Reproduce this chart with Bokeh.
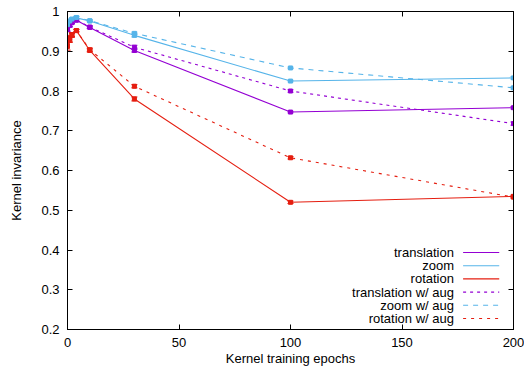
from bokeh.plotting import figure
from bokeh.models import Range1d, LinearAxis, FixedTicker, Whisker, ColumnDataSource
from bokeh.core.properties import value
from bokeh.embed import file_html
from bokeh.resources import INLINE

# ---- data ----
epochs = [0, 1, 2, 4, 10, 30, 100, 200]
translation = [0.955, 0.965, 0.972, 0.978, 0.960, 0.902, 0.747, 0.758]
zoom = [0.965, 0.975, 0.980, 0.984, 0.976, 0.940, 0.825, 0.833]
rotation = [0.912, 0.930, 0.940, 0.952, 0.902, 0.780, 0.520, 0.535]
translation_aug = [0.957, 0.966, 0.973, 0.979, 0.961, 0.910, 0.800, 0.718]
zoom_aug = [0.967, 0.976, 0.981, 0.985, 0.977, 0.945, 0.858, 0.808]
rotation_aug = [0.915, 0.932, 0.942, 0.952, 0.904, 0.812, 0.632, 0.533]
translation_err = [0.006, 0.004, 0.003, 0.003, 0.003, 0.004, 0.002, 0.003]
zoom_err = [0.006, 0.004, 0.003, 0.003, 0.002, 0.004, 0.002, 0.003]
rotation_err = [0.012, 0.008, 0.005, 0.003, 0.004, 0.005, 0.003, 0.003]
translation_aug_err = [0.006, 0.004, 0.003, 0.003, 0.003, 0.005, 0.003, 0.004]
zoom_aug_err = [0.006, 0.004, 0.003, 0.003, 0.002, 0.003, 0.002, 0.003]
rotation_aug_err = [0.012, 0.008, 0.005, 0.003, 0.004, 0.004, 0.003, 0.003]

labels = ["translation", "zoom", "rotation",
          "translation w/ aug", "zoom w/ aug", "rotation w/ aug"]
x_ticks = [0, 50, 100, 150, 200]
y_ticks = [0.2, 0.3, 0.4, 0.5, 0.6, 0.7, 0.8, 0.9, 1.0]

PURPLE = "#9400d3"
BLUE = "#56b4e9"
RED = "#e51e10"
FONT = "Liberation Sans"

series = [
    (translation, translation_err, PURPLE, "solid"),
    (zoom, zoom_err, BLUE, "solid"),
    (rotation, rotation_err, RED, "solid"),
    (translation_aug, translation_aug_err, PURPLE, "3 4"),
    (zoom_aug, zoom_aug_err, BLUE, "5 5"),
    (rotation_aug, rotation_aug_err, RED, "3 5"),
]

p = figure(width=524, height=374, x_range=Range1d(0, 200), y_range=Range1d(0.2, 1.0),
           output_backend="svg", toolbar_location=None,
           min_border_left=67, min_border_right=11, min_border_top=11, min_border_bottom=45)
p.grid.visible = False
p.outline_line_color = "black"
p.outline_line_width = 1
p.background_fill_color = "white"
p.border_fill_color = "white"

for ax in (p.xaxis[0], p.yaxis[0]):
    ax.major_tick_in = 5
    ax.major_tick_out = 0
    ax.minor_tick_in = 0
    ax.minor_tick_out = 0
    ax.axis_line_color = "black"
    ax.major_label_text_font = FONT
    ax.major_label_text_font_size = "13px"
    ax.major_label_text_color = "black"
    ax.axis_label_text_font = FONT
    ax.axis_label_text_font_size = "13px"
    ax.axis_label_text_font_style = "normal"
    ax.axis_label_text_color = "black"
    ax.major_label_standoff = 8

p.xaxis.ticker = FixedTicker(ticks=x_ticks)
p.yaxis.ticker = FixedTicker(ticks=y_ticks)
p.yaxis.major_label_overrides = {1.0: "1", 1: "1"}
p.xaxis.axis_label = "Kernel training epochs"
p.yaxis.axis_label = "Kernel invariance"
p.xaxis.axis_label_standoff = 1
p.yaxis.axis_label_standoff = 14

# mirrored axes (ticks only)
top = LinearAxis(ticker=FixedTicker(ticks=x_ticks), major_tick_in=5, major_tick_out=0,
                 minor_tick_in=0, minor_tick_out=0, major_label_text_font_size="1px",
                 major_label_overrides={t: "" for t in x_ticks},
                 major_label_standoff=0, axis_line_color="black")
right = LinearAxis(ticker=FixedTicker(ticks=y_ticks), major_tick_in=5, major_tick_out=0,
                   minor_tick_in=0, minor_tick_out=0, major_label_text_font_size="1px",
                   major_label_overrides={t: "" for t in y_ticks},
                   major_label_standoff=0, axis_line_color="black")
p.add_layout(top, "above")
p.add_layout(right, "right")

for vals, errs, color, dash in series:
    src = ColumnDataSource(dict(x=epochs, y=vals,
                                lo=[v - e for v, e in zip(vals, errs)],
                                hi=[v + e for v, e in zip(vals, errs)]))
    p.line("x", "y", source=src, line_color=color, line_width=1.1, line_dash=dash)
    w = Whisker(source=src, base="x", lower="lo", upper="hi", line_color=color, line_width=1)
    w.upper_head.size = 6
    w.lower_head.size = 6
    w.upper_head.line_color = color
    w.lower_head.line_color = color
    p.add_layout(w)
    p.scatter("x", "y", source=src, marker="square", size=4, fill_color=color,
              line_color=color)

# legend (gnuplot style: text right, sample left)
leg_text_x = 173.3
leg_x0, leg_x1 = 177.4, 193.6
leg_y0, leg_dy = 0.3937, 0.0332
for i, (lab, (vals, errs, color, dash)) in enumerate(zip(labels, series)):
    yy = leg_y0 - i * leg_dy
    p.text(x=[leg_text_x], y=[yy], text=[lab], text_align="right", text_baseline="middle",
           text_font=value(FONT), text_font_size="13px", text_color="black")
    p.segment(x0=[leg_x0], y0=[yy], x1=[leg_x1], y1=[yy], line_color=color,
              line_width=1.1, line_dash=dash)

open("out.html", "w").write(file_html(p, INLINE))
